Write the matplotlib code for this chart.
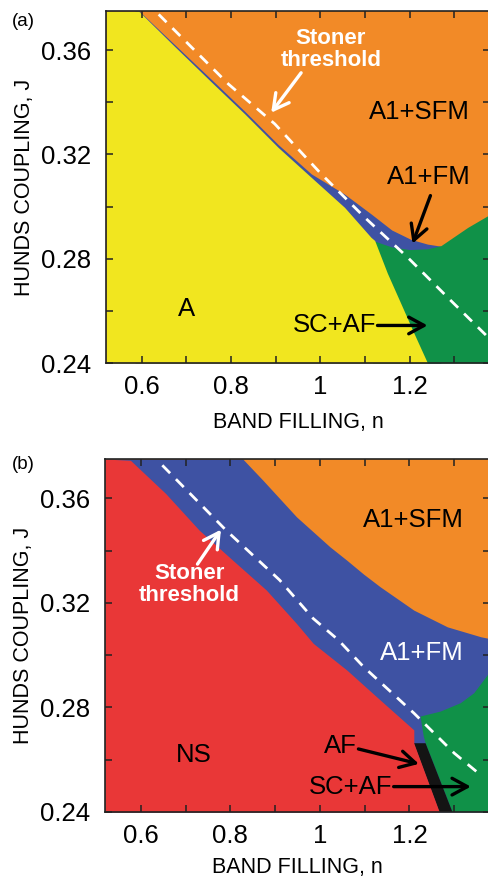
import numpy as np
import matplotlib
matplotlib.use('Agg')
import matplotlib.pyplot as plt
from matplotlib.ticker import MultipleLocator, FormatStrFormatter

plt.rcParams['font.family'] = ['Liberation Sans', 'DejaVu Sans']

YELLOW = '#F1E61F'
ORANGE = '#F28A27'
GREEN = '#109148'
BLUE = '#3E52A3'
RED = '#E93737'

# ---- panel (a) boundaries (band filling n, Hund's coupling J)
a_phaseA_n = [0.52, 0.593, 0.675, 0.757, 0.831, 0.9055, 0.9797, 1.0542, 1.1135, 1.1217, 1.15, 1.184, 1.21, 1.24]
a_phaseA_J = [0.375, 0.375, 0.3612, 0.3476, 0.3355, 0.3227, 0.3112, 0.2997, 0.2882, 0.287, 0.2745, 0.2614, 0.2513, 0.24]
a_fm_top_n = [0.585, 0.757, 0.831, 0.9055, 0.98, 1.054, 1.1135, 1.16, 1.203, 1.24, 1.27]
a_fm_top_J = [0.3765, 0.3486, 0.3365, 0.3238, 0.3125, 0.3048, 0.2972, 0.291, 0.2874, 0.2856, 0.2848]
a_sc_top_n = [1.117, 1.16, 1.2, 1.24, 1.27, 1.3, 1.33, 1.38]
a_sc_top_J = [0.287, 0.2845, 0.2835, 0.2838, 0.285, 0.2885, 0.292, 0.297]
a_stoner_n = [0.638, 0.794, 0.898, 1.002, 1.099, 1.195, 1.292, 1.372]
a_stoner_J = [0.3737, 0.347, 0.3317, 0.3125, 0.2959, 0.2806, 0.264, 0.2505]

# ---- panel (b) boundaries
b_ns_n = [0.52, 0.5768, 0.6555, 0.7303, 0.8052, 0.8802, 0.9476, 0.985, 1.06, 1.1348, 1.2097, 1.2097, 1.2666]
b_ns_J = [0.375, 0.3745, 0.3618, 0.3478, 0.3363, 0.3249, 0.3121, 0.3045, 0.2943, 0.2828, 0.2714, 0.2663, 0.24]
b_fm_top_n = [0.52, 0.8277, 0.8726, 0.9476, 1.0225, 1.06, 1.0973, 1.1348, 1.2097, 1.2847, 1.3596, 1.38]
b_fm_top_J = [0.375, 0.375, 0.3669, 0.3529, 0.3414, 0.3363, 0.331, 0.3261, 0.3172, 0.3108, 0.307, 0.3063]
b_sc_n = [1.2247, 1.2697, 1.3146, 1.3445, 1.367, 1.38, 1.38, 1.296, 1.236, 1.232]
b_sc_J = [0.2765, 0.2784, 0.2816, 0.2854, 0.2905, 0.2935, 0.24, 0.24, 0.2663, 0.2688]
b_af_n = [1.2097, 1.236, 1.296, 1.2666]
b_af_J = [0.2663, 0.2663, 0.24, 0.24]
b_stoner_n = [0.648, 0.790, 0.91, 0.985, 1.041, 1.097, 1.21, 1.30, 1.36]
b_stoner_J = [0.3726, 0.3478, 0.3287, 0.314, 0.3058, 0.2956, 0.2778, 0.2625, 0.254]

XLIM = (0.52, 1.38)
YLIM = (0.24, 0.375)


def style_axes(ax, xlabel_y=-0.14):
    ax.set_xlim(*XLIM)
    ax.set_ylim(*YLIM)
    ax.xaxis.set_major_locator(MultipleLocator(0.2))
    ax.xaxis.set_minor_locator(MultipleLocator(0.1))
    ax.yaxis.set_major_locator(MultipleLocator(0.04))
    ax.yaxis.set_minor_locator(MultipleLocator(0.02))
    ax.xaxis.set_major_formatter(FormatStrFormatter('%g'))
    ax.yaxis.set_major_formatter(FormatStrFormatter('%.2f'))
    ax.tick_params(which='both', direction='in', top=True, right=True,
                   length=5, width=1.1, color='#222222')
    ax.tick_params(axis='x', which='major', labelsize=18.5, pad=9)
    ax.tick_params(axis='y', which='major', labelsize=18.5, pad=11)
    for s in ax.spines.values():
        s.set_linewidth(1.2)
        s.set_color('#222222')
    ax.set_xlabel('BAND FILLING, n', fontsize=15.5)
    ax.set_ylabel('HUNDS COUPLING, J', fontsize=15.5)
    ax.xaxis.set_label_coords(0.5, xlabel_y)
    ax.yaxis.set_label_coords(-0.185, 0.5)


def arrow(ax, tail, head, color='black'):
    ax.annotate('', xy=head, xytext=tail,
                arrowprops=dict(arrowstyle='->,head_length=0.55,head_width=0.3',
                                color=color, lw=2.4, mutation_scale=20,
                                shrinkA=0, shrinkB=0))


fig = plt.figure(figsize=(4.88, 8.8), dpi=100)

# ---------------- panel (a)
ax1 = fig.add_axes([0.2172, 0.5875, 0.7869, 0.4])
ax1.set_facecolor(ORANGE)
ax1.fill_between(a_fm_top_n, YLIM[0], a_fm_top_J, color=BLUE, lw=0)
ax1.fill_between(a_sc_top_n, YLIM[0], a_sc_top_J, color=GREEN, lw=0)
ax1.fill_between(a_phaseA_n, YLIM[0], a_phaseA_J, color=YELLOW, lw=0)
ax1.plot(a_stoner_n, a_stoner_J, color='white', lw=2, dashes=(4, 3))
style_axes(ax1)

ax1.text(1.0236, 0.3603, 'Stoner\nthreshold', color='white', fontsize=16,
         fontweight='bold', ha='center', va='center', linespacing=1.05)
arrow(ax1, (0.957, 0.3513), (0.890, 0.336), color='white')
ax1.text(1.2214, 0.3361, 'A1+SFM', fontsize=18.5, ha='center', va='center')
ax1.text(1.2437, 0.3112, 'A1+FM', fontsize=18.5, ha='center', va='center')
arrow(ax1, (1.2466, 0.3042), (1.2065, 0.2858))
ax1.text(0.6997, 0.2609, 'A', fontsize=18.5, ha='center', va='center')
ax1.text(1.126, 0.2544, 'SC+AF', fontsize=18.5, ha='right', va='center')
arrow(ax1, (1.128, 0.2544), (1.24, 0.2544))
fig.text(0.024, 0.975, '(a)', fontsize=13.5, va='center', ha='left')

# ---------------- panel (b)
ax2 = fig.add_axes([0.2152, 0.0773, 0.789, 0.4011])
ax2.set_facecolor(ORANGE)
ax2.fill_between(b_fm_top_n, YLIM[0], b_fm_top_J, color=BLUE, lw=0)
ax2.fill(b_sc_n, b_sc_J, color=GREEN, lw=0)
ax2.fill(b_af_n, b_af_J, color='#141414', lw=0)
ax2.fill_between(b_ns_n, YLIM[0], b_ns_J, color=RED, lw=0)
ax2.plot(b_stoner_n, b_stoner_J, color='white', lw=2, dashes=(4, 3))
style_axes(ax2, xlabel_y=-0.128)

ax2.text(1.2097, 0.3516, 'A1+SFM', fontsize=18.5, ha='center', va='center')
ax2.text(0.7079, 0.3271, 'Stoner\nthreshold', color='white', fontsize=16,
         fontweight='bold', ha='center', va='center', linespacing=1.05)
arrow(ax2, (0.7265, 0.3348), (0.779, 0.348), color='white')
ax2.text(1.2285, 0.3007, 'A1+FM', fontsize=18.5, ha='center', va='center',
         color='white')
ax2.text(0.719, 0.2618, 'NS', fontsize=18.5, ha='center', va='center')
ax2.text(1.0465, 0.2653, 'AF', fontsize=18.5, ha='center', va='center')
arrow(ax2, (1.086, 0.2641), (1.221, 0.2584))
ax2.text(1.162, 0.2497, 'SC+AF', fontsize=18.5, ha='right', va='center')
arrow(ax2, (1.1647, 0.2497), (1.337, 0.2497))
fig.text(0.024, 0.4727, '(b)', fontsize=13.5, va='center', ha='left')

fig.savefig('out.png', dpi=100)
